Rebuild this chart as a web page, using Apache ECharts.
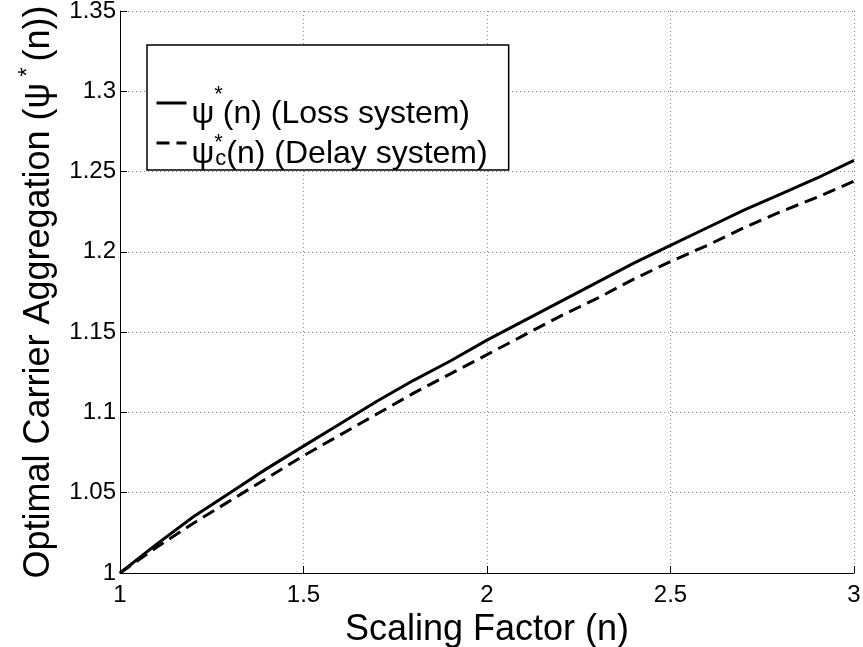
<!DOCTYPE html>
<html>
<head>
<meta charset="utf-8">
<style>
  html, body { margin: 0; padding: 0; background: #fff; }
  #chart { width: 863px; height: 647px; }
</style>
<script src="https://cdn.jsdelivr.net/npm/echarts@6/dist/echarts.min.js"></script>
</head>
<body>
<div id="chart"></div>
<script>
// scaling factor n
var nValues = [1.0, 1.1, 1.2, 1.3, 1.4, 1.5, 1.6, 1.7, 1.8, 1.9, 2.0,
               2.1, 2.2, 2.3, 2.4, 2.5, 2.6, 2.7, 2.8, 2.9, 3.0];
// psi*(n), loss system
var lossValues = [1.000, 1.018, 1.035, 1.050, 1.065, 1.079, 1.093, 1.107, 1.120, 1.132, 1.145,
                  1.157, 1.169, 1.181, 1.193, 1.204, 1.215, 1.226, 1.236, 1.246, 1.257];
// psi_c*(n), delay system
var delayValues = [1.000, 1.016, 1.031, 1.045, 1.059, 1.073, 1.086, 1.099, 1.112, 1.124, 1.136,
                   1.148, 1.160, 1.171, 1.183, 1.194, 1.204, 1.215, 1.225, 1.234, 1.244];

var FONT = 'Liberation Sans';
var DASH = [13, 7];

function pairs(xs, ys) {
    var out = [];
    for (var i = 0; i < xs.length; i++) {
        out.push([xs[i], ys[i]]);
    }
    return out;
}

var gridLine = {
    show: true,
    lineStyle: { color: '#8c8c8c', width: 1, type: [1, 3] }
};

var myChart = echarts.init(document.getElementById('chart'), null, { renderer: 'canvas' });
var option = {
    animation: false,
    backgroundColor: '#fff',
    textStyle: { fontFamily: FONT },
    grid: { left: 120, right: 9, top: 11, bottom: 74, containLabel: false, outerBoundsMode: 'none' },
    xAxis: {
        type: 'value',
        min: 1, max: 3, interval: 0.5,
        name: 'Scaling Factor (n)',
        nameLocation: 'middle',
        nameGap: 25,
        nameTextStyle: { fontSize: 36, color: '#000', fontFamily: FONT },
        axisLine: { lineStyle: { color: '#000', width: 1 } },
        axisTick: { inside: true, length: 7, lineStyle: { color: '#000' } },
        axisLabel: { fontSize: 24, color: '#000', margin: 10, fontFamily: FONT },
        splitLine: gridLine
    },
    yAxis: {
        type: 'value',
        min: 1, max: 1.35, interval: 0.05,
        name: '{t|Optimal Carrier Aggregation (ψ}{s|*}{t|(n))}',
        nameLocation: 'middle',
        nameGap: 58,
        nameRotate: 90,
        nameTextStyle: {
            fontFamily: FONT,
            color: '#000',
            rich: {
                t: { fontSize: 36, fontFamily: FONT, color: '#000' },
                s: { fontSize: 24, fontFamily: FONT, color: '#000', padding: [0, 6, 22, 6] }
            }
        },
        axisLine: { show: true, lineStyle: { color: '#000', width: 1 } },
        axisTick: { show: true, inside: true, length: 7, lineStyle: { color: '#000' } },
        axisLabel: { fontSize: 24, color: '#000', margin: 4, fontFamily: FONT },
        splitLine: gridLine
    },
    legend: {
        orient: 'vertical',
        left: 147,
        top: 45,
        padding: [39, 21, 0, 8],
        itemGap: 2,
        itemWidth: 30,
        itemHeight: 14,
        backgroundColor: '#fff',
        borderColor: '#000',
        borderWidth: 1.5,
        borderRadius: 0,
        itemStyle: { color: 'transparent', borderWidth: 0, opacity: 0 },
        lineStyle: { width: 3, color: '#000' },
        textStyle: {
            fontFamily: FONT,
            color: '#000',
            padding: [8, 0, 0, 0],
            rich: {
                a: { fontSize: 32, fontFamily: FONT, color: '#000', height: 32, lineHeight: 46, verticalAlign: 'bottom' },
                sup: { fontSize: 22, fontFamily: FONT, color: '#000', verticalAlign: 'top' },
                supc: { fontSize: 22, fontFamily: FONT, color: '#000', verticalAlign: 'top', width: 1, align: 'left', padding: [8, 0, 0, 0] },
                sub: { fontSize: 22, fontFamily: FONT, color: '#000', verticalAlign: 'bottom' }
            }
        },
        formatter: function (name) {
            if (name === 'loss') {
                return '{a|ψ}{sup|*}{a|(n) (Loss system)}';
            }
            return '{a|ψ}{supc|*}{sub|c}{a|(n) (Delay system)}';
        },
        data: [
            { name: 'loss', lineStyle: { type: 'solid' } },
            { name: 'delay', lineStyle: { type: DASH } }
        ]
    },
    series: [
        {
            name: 'loss',
            type: 'line',
            symbol: 'none',
            data: pairs(nValues, lossValues),
            lineStyle: { color: '#000', width: 3, type: 'solid' },
            itemStyle: { color: '#000' }
        },
        {
            name: 'delay',
            type: 'line',
            symbol: 'none',
            data: pairs(nValues, delayValues),
            lineStyle: { color: '#000', width: 3, type: DASH },
            itemStyle: { color: '#000' }
        }
    ]
};
myChart.setOption(option);
</script>
</body>
</html>
